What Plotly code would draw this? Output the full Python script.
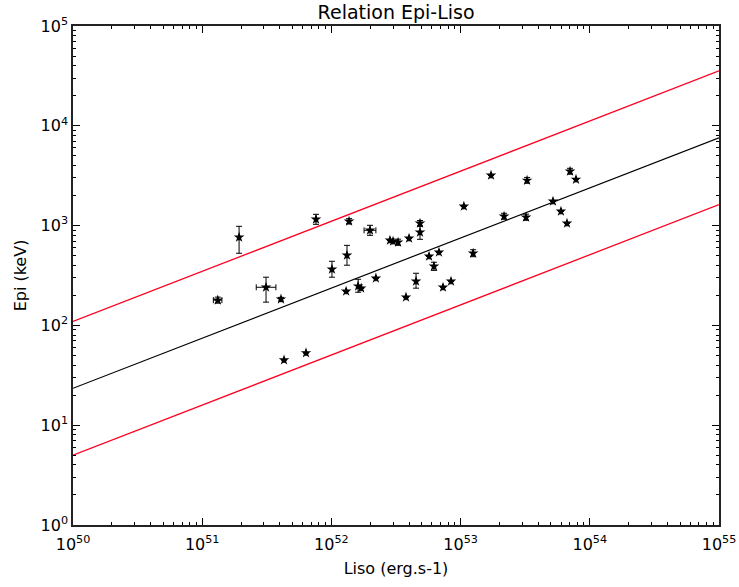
import numpy as np
import plotly.graph_objects as go

# Liso (erg/s) and Epi (keV)
liso = [1.32e51, 1.93e51, 3.12e51, 4.07e51, 4.30e51, 6.36e51, 7.60e51, 1.01e52,
        1.32e52, 1.37e52, 1.30e52, 1.99e52, 2.21e52, 1.61e52, 1.70e52, 2.84e52,
        3.00e52, 3.28e52, 3.99e52, 3.78e52, 4.52e52, 4.85e52, 4.85e52, 5.70e52,
        6.80e52, 6.22e52, 7.31e52, 8.43e52, 1.06e53, 1.25e53, 1.72e53, 2.17e53,
        3.21e53, 3.27e53, 5.19e53, 5.98e53, 6.66e53, 7.03e53, 7.82e53]
epi = [179, 764, 241, 183, 45, 53, 1156, 365,
       504, 1104, 220, 897, 297, 247, 236, 713,
       697, 681, 746, 192, 277, 1055, 857, 493,
       541, 391, 241, 277, 1560, 528, 3190, 1239,
       1211, 2840, 1750, 1390, 1054, 3500, 2906]
epi_err_plus = [13, 220, 63, 8, 0, 0, 142, 74,
                130, 70, 0, 110, 0, 43, 0, 0,
                0, 50, 0, 0, 56, 70, 128, 0,
                0, 38, 0, 0, 0, 45, 0, 90,
                90, 200, 0, 0, 0, 250, 0]
epi_err_minus = [12, 236, 70, 8, 0, 0, 126, 61,
                 103, 62, 0, 98, 0, 32, 0, 0,
                 0, 46, 0, 0, 41, 62, 128, 0,
                 0, 35, 0, 0, 0, 40, 0, 80,
                 80, 180, 0, 0, 0, 220, 0]
liso_err_plus = [0.10e51, 0, 0.60e51, 0, 0, 0, 0, 0,
                 0, 0, 0, 0.22e52, 0, 0, 0, 0,
                 0, 0, 0, 0, 0, 0, 0, 0,
                 0, 0, 0, 0, 0, 0, 0, 0,
                 0, 0, 0, 0, 0, 0, 0]
liso_err_minus = [0.10e51, 0, 0.50e51, 0, 0, 0, 0, 0,
                  0, 0, 0, 0.20e52, 0, 0, 0, 0,
                  0, 0, 0, 0, 0, 0, 0, 0,
                  0, 0, 0, 0, 0, 0, 0, 0,
                  0, 0, 0, 0, 0, 0, 0]

# fitted relation: log Epi = a + b*(log Liso - 50), scatter band +/- sigma dex
fit_a = 1.37
fit_b = 0.502
fit_sigma = 0.67

x_line = np.array([1e50, 1e55])
y_fit = 10 ** (fit_a + fit_b * (np.log10(x_line) - 50))

fig = go.Figure()

fig.add_trace(go.Scatter(x=x_line, y=y_fit * 10 ** fit_sigma, mode="lines",
                         line=dict(color="#ff0022", width=1.3), showlegend=False))
fig.add_trace(go.Scatter(x=x_line, y=y_fit / 10 ** fit_sigma, mode="lines",
                         line=dict(color="#ff0022", width=1.3), showlegend=False))
fig.add_trace(go.Scatter(x=x_line, y=y_fit, mode="lines",
                         line=dict(color="black", width=1.2), showlegend=False))

fig.add_trace(go.Scatter(
    x=liso, y=epi, mode="markers",
    marker=dict(symbol="star", size=8, color="black", line=dict(width=0)),
    error_y=dict(type="data", array=epi_err_plus, arrayminus=epi_err_minus,
                 color="black", thickness=1, width=3),
    error_x=dict(type="data", array=liso_err_plus, arrayminus=liso_err_minus,
                 color="black", thickness=1, width=3),
    showlegend=False))

def minor_vals(lo, hi):
    return [m * 10.0 ** k for k in range(lo, hi) for m in range(2, 10)]

sup = lambda k: "10<sup>%d</sup>" % k
font = "DejaVu Sans, Arial, sans-serif"

fig.update_layout(
    width=739, height=587,
    paper_bgcolor="white", plot_bgcolor="white",
    margin=dict(l=73, r=20, t=26, b=62),
    font=dict(family=font, size=15, color="black"),
    title=dict(text="Relation Epi-Liso", x=0.536, xanchor="center",
               xref="container", yref="container",
               y=0.99, yanchor="top", font=dict(size=19)),
)
fig.update_xaxes(
    type="log", range=[50, 55], automargin=False,
    tickvals=[10.0 ** k for k in range(50, 56)],
    ticktext=[sup(k) for k in range(50, 56)],
    ticks="inside", ticklen=7, tickcolor="black", ticklabelstandoff=4,
    showline=True, linecolor="#222222", linewidth=1.5, mirror="allticks",
    showgrid=False, zeroline=False,
    minor=dict(tickvals=minor_vals(50, 55), ticks="inside", ticklen=3,
               tickcolor="black", showgrid=False),
    title=dict(text="Liso (erg.s-1)", font=dict(size=16), standoff=10),
    tickfont=dict(size=16),
)
fig.update_yaxes(
    type="log", range=[0, 5], automargin=False,
    tickvals=[10.0 ** k for k in range(0, 6)],
    ticktext=[sup(k) for k in range(0, 6)],
    ticks="inside", ticklen=7, tickcolor="black",
    showline=True, linecolor="#222222", linewidth=1.5, mirror="allticks",
    showgrid=False, zeroline=False,
    minor=dict(tickvals=minor_vals(0, 5), ticks="inside", ticklen=3,
               tickcolor="black", showgrid=False),
    title=dict(text="Epi (keV)", font=dict(size=16), standoff=10),
    tickfont=dict(size=16),
)

# drop the browser's default 8px body margin so the figure sits at the page origin
fig.write_html("out.html", config={"displayModeBar": False},
               post_script="document.body.style.margin='0';")
